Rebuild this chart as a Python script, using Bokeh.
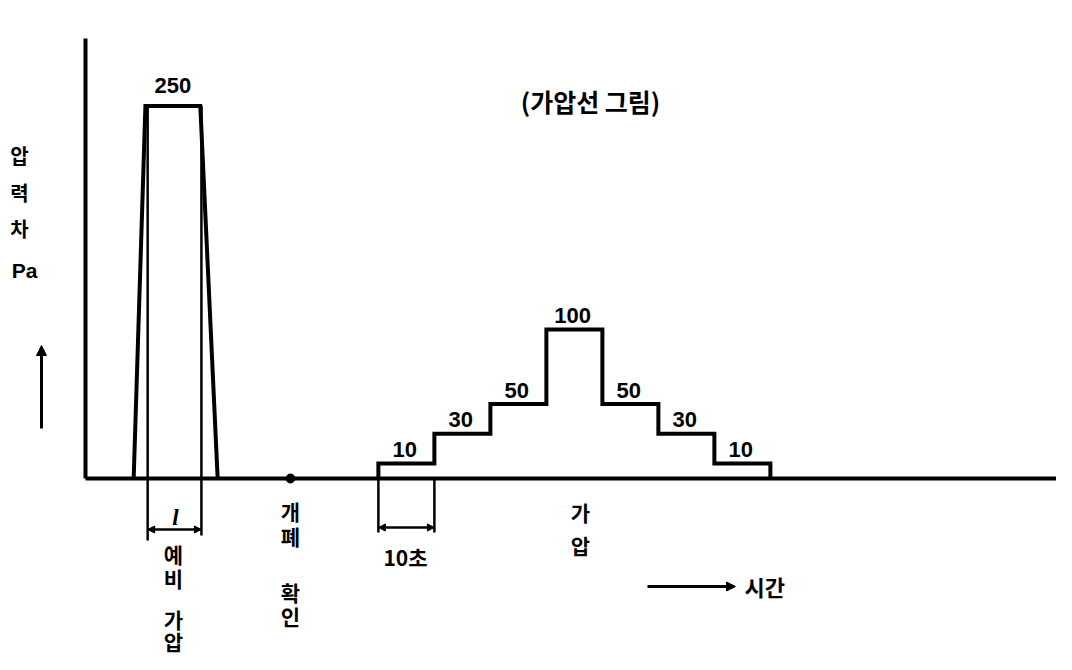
from bokeh.plotting import figure
from bokeh.models import Range1d, Arrow, NormalHead
from bokeh.core.properties import value
from bokeh.embed import file_html
from bokeh.resources import INLINE

# ---------------- data ----------------
pre_times = [8.6, 10.7, 20.5, 23.6]        # s : preliminary pressurisation trapezoid
pre_pressure = [0, 250, 250, 0]            # Pa
pre_label = ["250"]
pre_marks = [11.1, 20.7]                   # s : edges of duration l
check_time = [36.6]                        # s : open/close check point
step_start = 52.3                          # s
step_len = 10                              # s per step
step_levels = [10, 30, 50, 100, 50, 30, 10]  # Pa
step_labels = [str(v) for v in step_levels]

# ---------------- layout helpers ----------------
W, H = 1056, 654
X0, Y0 = 85, 478          # px of origin
SX, SY = 5.6, 1.49        # px per s, px per Pa
def tx(px):  # pixel -> seconds
    return (px - X0) / SX
def py(pyy):  # pixel -> Pa
    return (Y0 - pyy) / SY

p = figure(width=W, height=H, output_backend="svg", toolbar_location=None,
           x_axis_type=None, y_axis_type=None, min_border=0,
           x_range=Range1d(-X0 / SX, (W - X0) / SX),
           y_range=Range1d((Y0 - H) / SY, Y0 / SY))
p.grid.visible = False
p.outline_line_color = None
p.background_fill_color = "white"

K = "black"
# axes
p.line([0, 0], [0, py(38)], line_width=4, color=K)
p.line([0, tx(1060)], [0, 0], line_width=4, color=K)

# preliminary pulse
p.line(pre_times, pre_pressure, line_width=4, color=K, line_join="miter")
for t, low in zip(pre_marks, [py(540), py(535)]):
    p.line([t, t], [pre_pressure[1], low], line_width=2.5, color=K)
dim_y = py(529)
p.add_layout(Arrow(x_start=pre_marks[0], y_start=dim_y, x_end=pre_marks[1], y_end=dim_y,
                   line_width=2.5, line_color=K,
                   start=NormalHead(size=7, fill_color=K, line_color=K),
                   end=NormalHead(size=7, fill_color=K, line_color=K)))
p.text(x=[(pre_times[1] + pre_times[2]) / 2], y=[pre_pressure[1]], text=pre_label,
       text_align="center", text_baseline="alphabetic", y_offset=-21,
       text_font=value("Liberation Sans"), text_font_style="bold",
       text_font_size="22px", color=K)
p.text(x=[tx(175)], y=[py(517)], text=["l"], text_align="center", text_baseline="middle",
       text_font=value("Liberation Serif"), text_font_style="bold italic",
       text_font_size="23px", color=K)

# check point
p.scatter(check_time, [0], size=9, color=K)

# stepped pressurisation
xs, ys = [step_start], [0]
for i, lv in enumerate(step_levels):
    xs += [step_start + i * step_len, step_start + (i + 1) * step_len]
    ys += [lv, lv]
xs.append(step_start + len(step_levels) * step_len)
ys.append(0)
p.line(xs, ys, line_width=4, color=K, line_join="miter")
centers = [step_start + (i + 0.5) * step_len - 0.3 for i in range(len(step_levels))]
p.text(x=centers, y=step_levels, text=step_labels, text_align="center",
       text_baseline="alphabetic", y_offset=-14,
       text_font=value("Liberation Sans"), text_font_style="bold",
       text_font_size="22px", color=K)

# 10 s dimension
for t in [step_start, step_start + step_len]:
    p.line([t, t], [0, py(532)], line_width=2.5, color=K)
d2 = py(527)
p.add_layout(Arrow(x_start=step_start, y_start=d2, x_end=step_start + step_len, y_end=d2,
                   line_width=2.5, line_color=K,
                   start=NormalHead(size=7, fill_color=K, line_color=K),
                   end=NormalHead(size=7, fill_color=K, line_color=K)))

KR = value("Noto Sans CJK KR")
def ktext(xv, yv, s, size="21px", align="center"):
    p.text(x=[xv], y=[yv], text=[s], text_align=align, text_baseline="middle",
           text_font=KR, text_font_style="bold", text_font_size=size, color=K)

ktext(tx(405), py(556), "10초")
ktext(tx(590), py(100), "(가압선 그림)", size="25px")
# y label
for ch, yy in zip(["압", "력", "차"], [155, 192, 228]):
    ktext(tx(19), py(yy), ch, size="20px")
p.text(x=[tx(24)], y=[py(270)], text=["Pa"], text_align="center", text_baseline="middle",
       text_font=value("Liberation Sans"), text_font_style="bold",
       text_font_size="21px", color=K)
p.add_layout(Arrow(x_start=tx(41), y_start=py(428), x_end=tx(41), y_end=py(345),
                   line_width=3, line_color=K,
                   end=NormalHead(size=10, fill_color=K, line_color=K)))
# bottom labels
for ch, yy in zip(["개", "폐", "확", "인"], [510, 535, 591, 615]):
    ktext(check_time[0], py(yy), ch)
for ch, yy in zip(["예", "비", "가", "압"], [553, 577, 618, 640]):
    ktext(tx(173), py(yy), ch)
for ch, yy in zip(["가", "압"], [511, 544]):
    ktext(tx(580), py(yy), ch)
p.add_layout(Arrow(x_start=tx(647), y_start=py(586), x_end=tx(735), y_end=py(586),
                   line_width=3, line_color=K,
                   end=NormalHead(size=9, fill_color=K, line_color=K)))
ktext(tx(744), py(585), "시간", size="22px", align="left")

open("out.html", "w").write(file_html(p, INLINE))
